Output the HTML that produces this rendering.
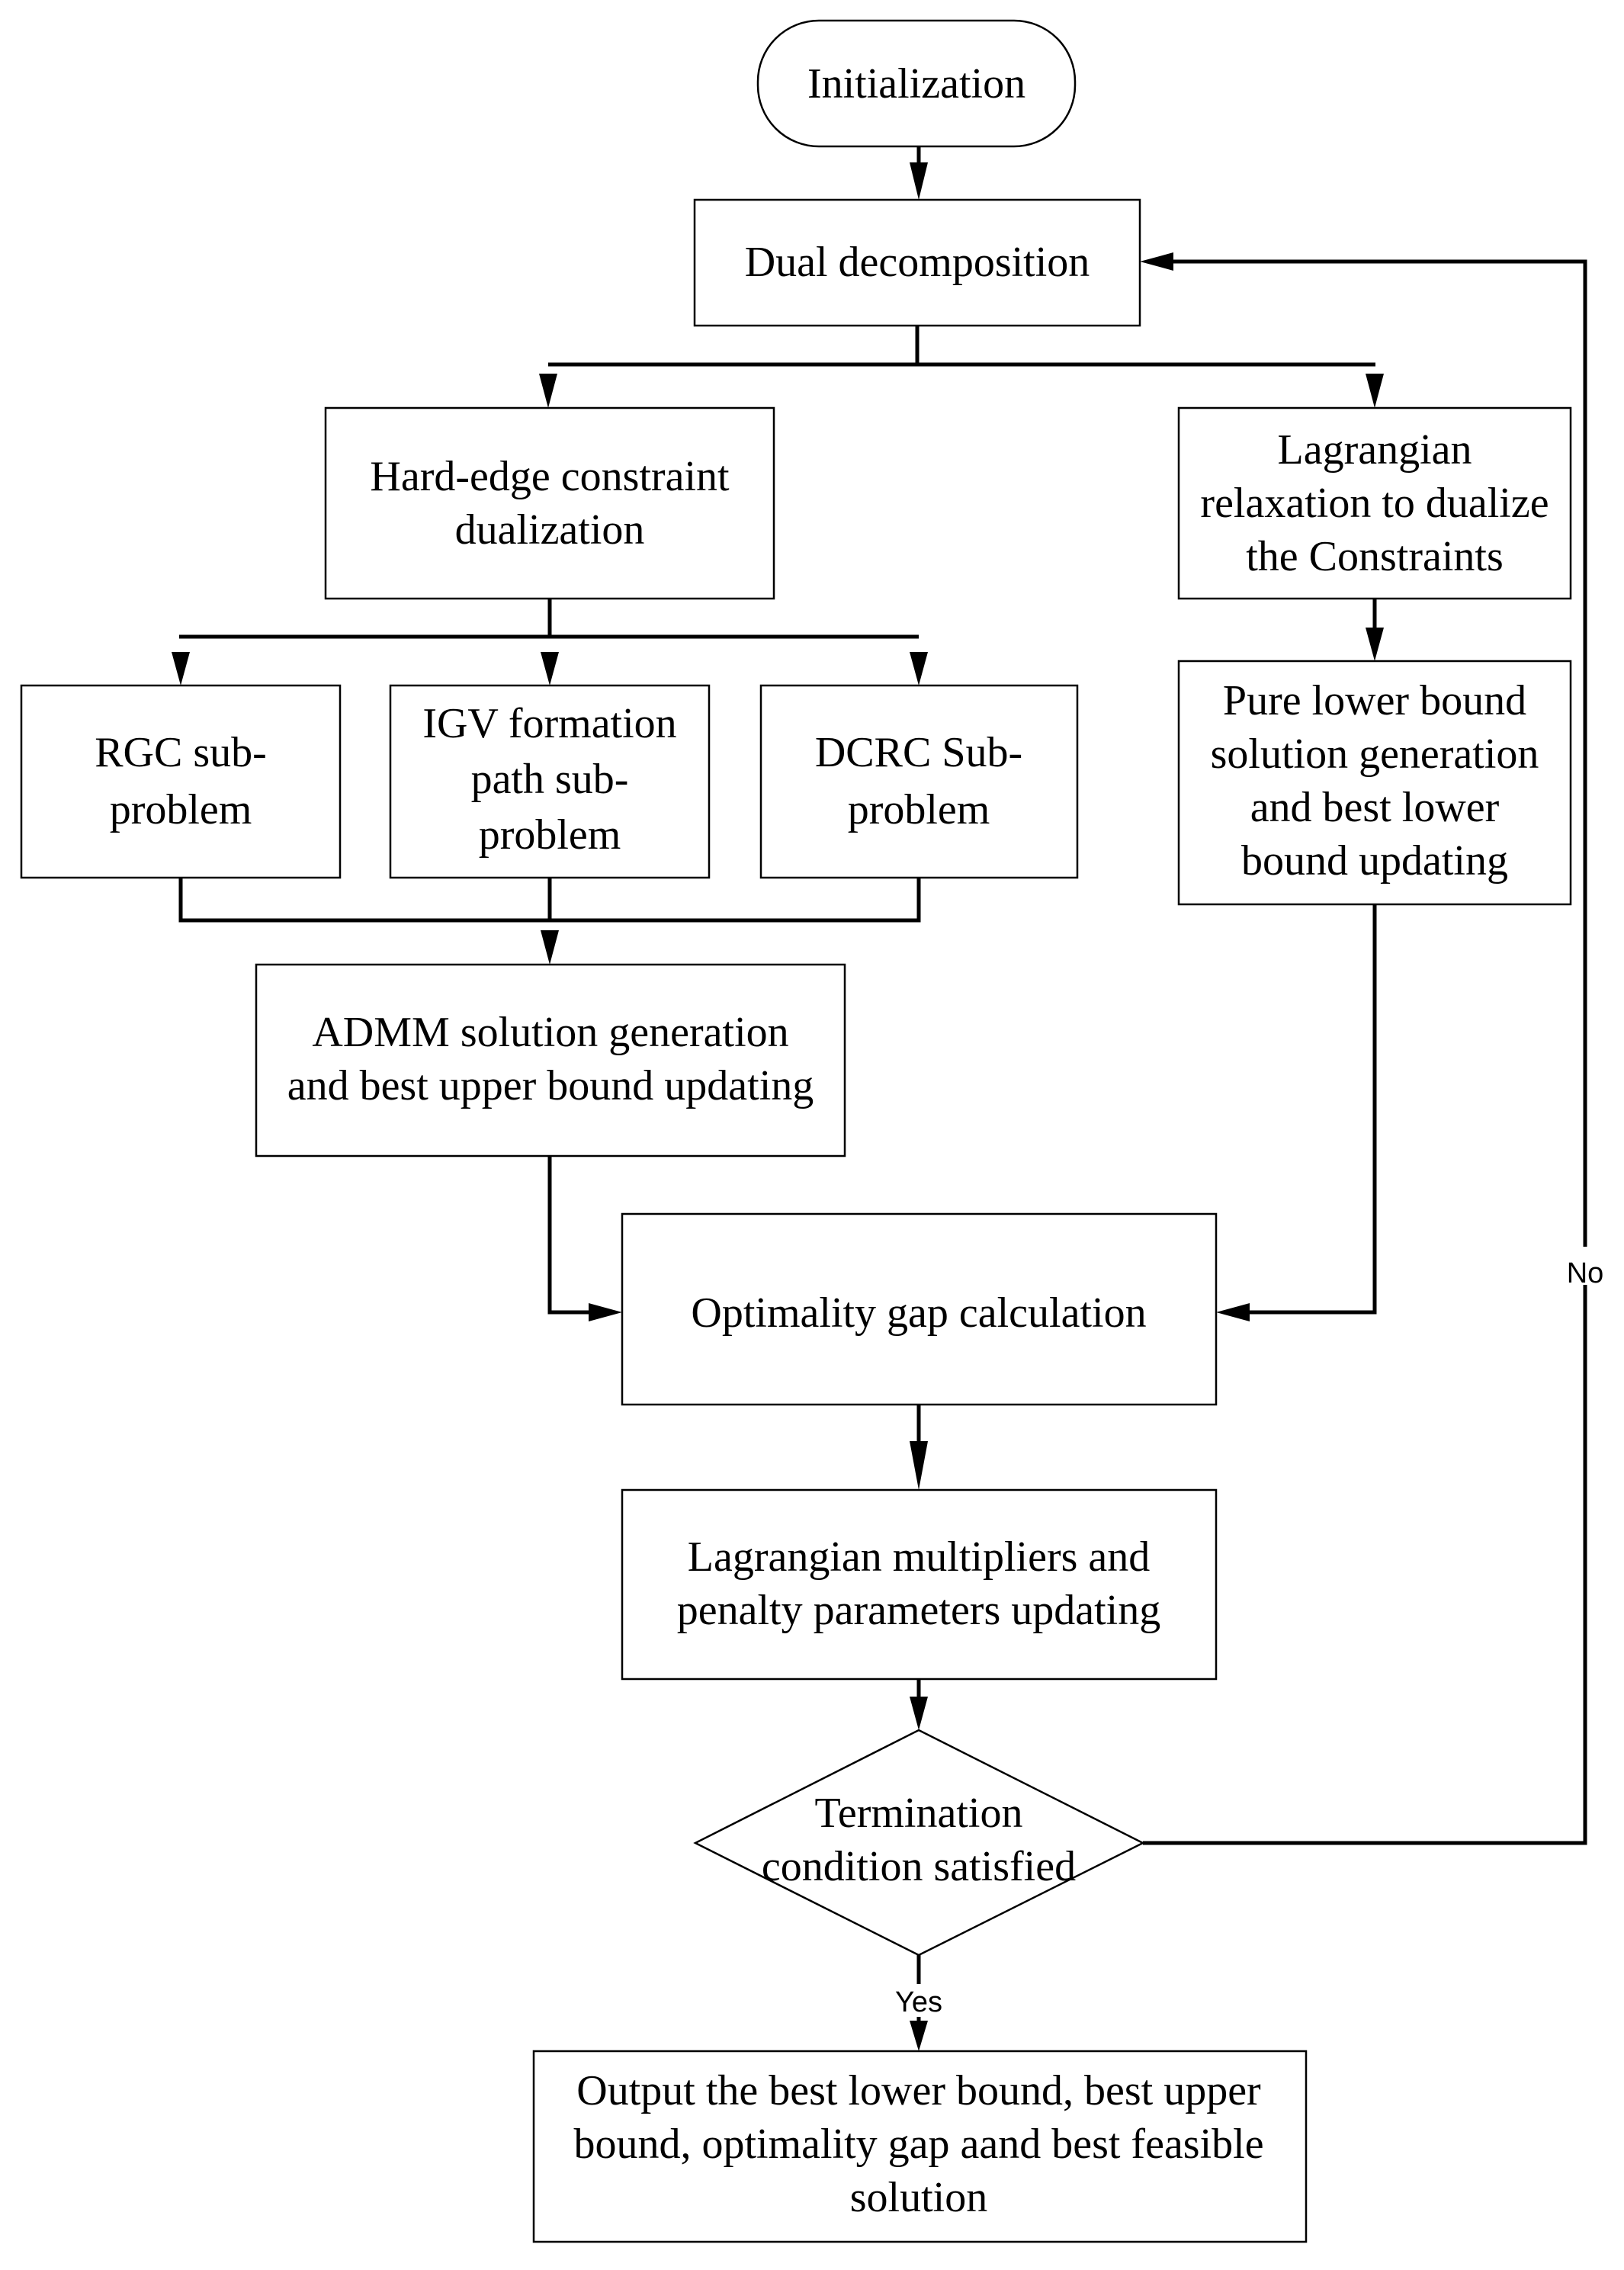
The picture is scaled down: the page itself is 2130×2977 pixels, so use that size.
<!DOCTYPE html>
<html><head><meta charset="utf-8"><style>
html,body{margin:0;padding:0;background:#fff}
svg{display:block}
text{font-family:"Liberation Serif",serif;font-size:56px;fill:#000;text-anchor:middle}
.s{font-family:"Liberation Sans",sans-serif;font-size:38px}
</style></head><body>
<svg width="2130" height="2977" viewBox="0 0 2130 2977" xmlns="http://www.w3.org/2000/svg">
<g fill="none" stroke="#000" stroke-width="2.5">
<rect x="994" y="27" width="416" height="165" rx="80" ry="80"/>
<rect x="911" y="262" width="584" height="165"/>
<rect x="427" y="535" width="588" height="250"/>
<rect x="1546" y="535" width="514" height="250"/>
<rect x="28" y="899" width="418" height="252"/>
<rect x="512" y="899" width="418" height="252"/>
<rect x="998" y="899" width="415" height="252"/>
<rect x="1546" y="867" width="514" height="319"/>
<rect x="336" y="1265" width="772" height="251"/>
<rect x="816" y="1592" width="779" height="250"/>
<rect x="816" y="1954" width="779" height="248"/>
<polygon points="1205,2269 1499,2417 1205,2564 912,2417"/>
<rect x="700" y="2690" width="1013" height="250"/>
</g>
<g fill="none" stroke="#000" stroke-width="5">
<path d="M1203,427 V478"/>
<path d="M719,478 H1804"/>
<path d="M721,785 V835"/>
<path d="M235,835 H1205"/>
<path d="M237,1151 V1207 H1205 V1151"/>
<path d="M721,1151 V1207"/>
<path d="M1803,785 V830"/>
<path d="M721,1516 V1721 H790"/>
<path d="M1803,1186 V1721 H1620"/>
<path d="M1499,2417 H2079 V343 H1520"/>
<path d="M1205,192 V220"/>
</g>
<g fill="#000">
<path d="M1193,213 L1217,213 L1205,262 z"/>
<path d="M707,490 L731,490 L719,535 z"/>
<path d="M1791,490 L1815,490 L1803,535 z"/>
<path d="M225,855 L249,855 L237,899 z"/>
<path d="M709,855 L733,855 L721,899 z"/>
<path d="M1193,855 L1217,855 L1205,899 z"/>
<path d="M1791,823 L1815,823 L1803,867 z"/>
<path d="M709,1220 L733,1220 L721,1265 z"/>
<path d="M1193,1890 L1217,1890 L1205,1954 z"/>
<path d="M1193,2225 L1217,2225 L1205,2269 z"/>
<path d="M1193,2650 L1217,2650 L1205,2690 z"/>
<path d="M772,1709 L772,1733 L816,1721 z"/>
<path d="M1639,1709 L1639,1733 L1595,1721 z"/>
<path d="M1539,331 L1539,355 L1495,343 z"/>
</g>
<path d="M1205,1842 V1900 M1205,2202 V2230 M1205,2564 V2602 M1205,2645 V2660" stroke="#000" stroke-width="5"/>
<text x="1202" y="128">Initialization</text>
<text x="1203" y="362">Dual decomposition</text>
<text x="721" y="643">Hard-edge constraint</text>
<text x="721" y="713">dualization</text>
<text x="1803" y="608">Lagrangian</text>
<text x="1803" y="678">relaxation to dualize</text>
<text x="1803" y="748">the Constraints</text>
<text x="237" y="1005">RGC sub-</text>
<text x="237" y="1080">problem</text>
<text x="721" y="967">IGV formation</text>
<text x="721" y="1040">path sub-</text>
<text x="721" y="1113">problem</text>
<text x="1205" y="1005">DCRC Sub-</text>
<text x="1205" y="1080">problem</text>
<text x="1803" y="937">Pure lower bound</text>
<text x="1803" y="1007">solution generation</text>
<text x="1803" y="1077">and best lower</text>
<text x="1803" y="1147">bound updating</text>
<text x="722" y="1372">ADMM solution generation</text>
<text x="722" y="1442">and best upper bound updating</text>
<text x="1205" y="1740">Optimality gap calculation</text>
<text x="1205" y="2060">Lagrangian multipliers and</text>
<text x="1205" y="2130">penalty parameters updating</text>
<text x="1205" y="2396">Termination</text>
<text x="1205" y="2466">condition satisfied</text>
<text x="1205" y="2760">Output the best lower bound, best upper</text>
<text x="1205" y="2830">bound, optimality gap aand best feasible</text>
<text x="1205" y="2900">solution</text>
<rect x="2050" y="1635" width="58" height="50" fill="#fff"/>
<text class="s" x="2079" y="1682">No</text>
<text class="s" x="1205" y="2638">Yes</text>
</svg>
</body></html>
